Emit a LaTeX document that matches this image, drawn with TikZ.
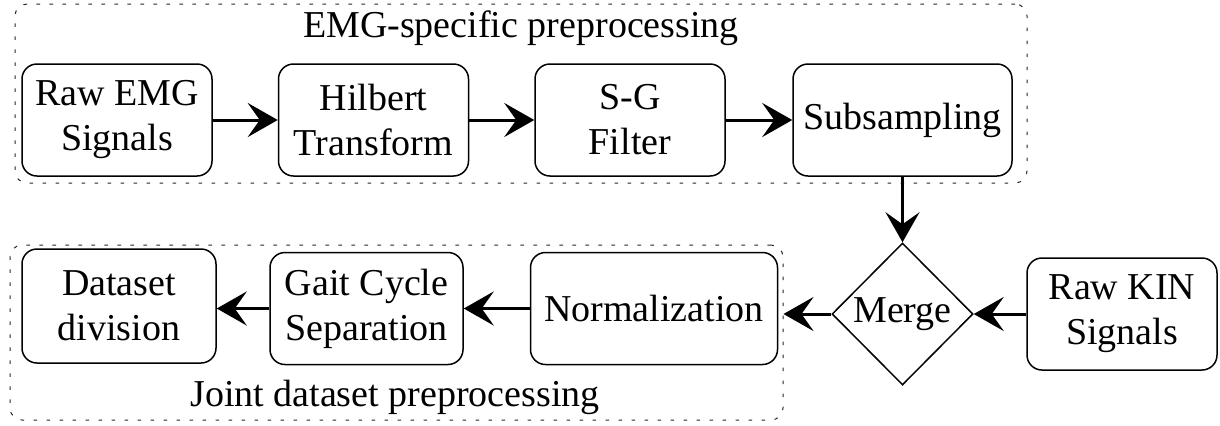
\documentclass[tikz,border=0pt]{standalone}
\usepackage{fontspec}
\setmainfont{Liberation Serif}
\usetikzlibrary{arrows.meta,shapes.geometric}

\tikzset{
  every node/.style={font=\fontsize{19}{22.5}\selectfont},
  stepbox/.style={draw, rounded corners=7.5pt, line width=0.75pt, align=center,
                  inner sep=0pt, minimum width=95pt, minimum height=56pt},
  mergebox/.style={draw, diamond, line width=0.75pt, inner sep=0pt,
                   minimum width=70.5pt, minimum height=71pt},
  groupbox/.style={draw=black!85, rounded corners=6pt, line width=0.5pt,
                   dash pattern=on 1.8pt off 4.7pt, inner sep=0pt},
  flow/.style={line width=1.5pt, -{Stealth[length=15pt, width=17pt, inset=6pt]}},
}

\begin{document}
\begin{tikzpicture}[x=0.5pt, y=-0.5pt]
\useasboundingbox (0,0) rectangle (1220,425);

% group frames
\node[groupbox, minimum width=506pt, minimum height=89.5pt] (emggroup) at (521,93.5) {};
\node[groupbox, minimum width=386.5pt, minimum height=87.5pt] (jointgroup) at (396.5,332.5) {};
\node[anchor=base] (emgtitle) at (521,37) {EMG-specific preprocessing};
\node[anchor=base] (jointtitle) at (395,406) {Joint dataset preprocessing};

% EMG chain
\node[stepbox] (rawemg) at (117,120) {Raw EMG\\Signals};
\node[stepbox] (hilbert) at (373.5,120) {Hilbert\\Transform};
\node[stepbox] (sg) at (630,120) {S-G\\Filter};
\node[stepbox, minimum width=109.5pt] (subs) at (902.5,120) {Subsampling};

% merge and kinematics
\node[mergebox] (merge) at (902.5,314) {Merge};
\node[stepbox] (rawkin) at (1122,314) {Raw KIN\\Signals};

% joint chain
\node[stepbox, minimum width=123.5pt] (norm) at (654,308.5) {Normalization};
\node[stepbox, minimum width=96.5pt] (gait) at (366.5,308.5) {Gait Cycle\\Separation};
\node[stepbox, minimum width=97pt, minimum height=57pt] (dataset) at (119,306) {Dataset\\division};

% connectors
\draw[flow] (rawemg) -- (hilbert);
\draw[flow] (hilbert) -- (sg);
\draw[flow] (sg) -- (subs);
\draw[flow] (subs) -- (merge);
\draw[flow] (rawkin) -- (merge);
\draw[flow] (merge.west) -- (merge.west -| jointgroup.east);
\draw[flow] (norm) -- (gait);
\draw[flow] (gait.west) -- (gait.west -| dataset.east);
\end{tikzpicture}
\end{document}
